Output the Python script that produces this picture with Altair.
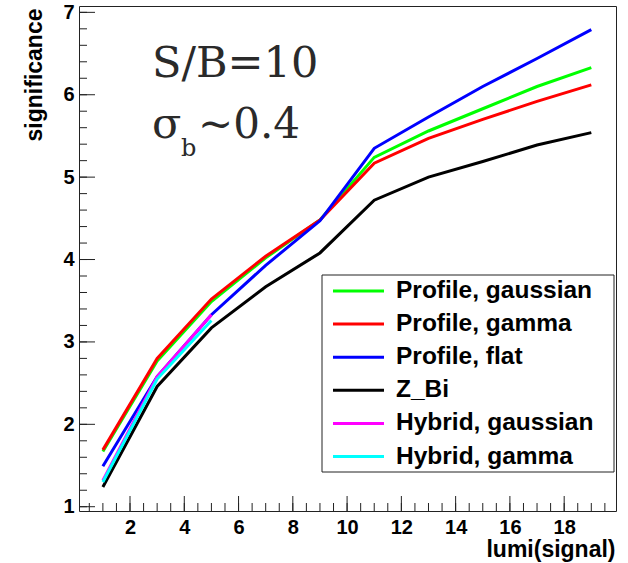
import altair as alt
import pandas as pd

# ---- data ----
x_profile = [1, 3, 5, 7, 9, 11, 13, 15, 17, 19]
x_hybrid = [1, 3, 5]
prof_gauss = [1.67, 2.77, 3.49, 4.02, 4.48, 5.24, 5.56, 5.83, 6.10, 6.33]
prof_gamma = [1.69, 2.80, 3.52, 4.04, 4.48, 5.17, 5.47, 5.70, 5.92, 6.12]
prof_flat = [1.49, 2.58, 3.33, 3.93, 4.47, 5.35, 5.73, 6.10, 6.44, 6.79]
z_bi = [1.24, 2.46, 3.17, 3.67, 4.08, 4.72, 5.00, 5.19, 5.39, 5.54]
hyb_gauss = [1.32, 2.58, 3.33]
hyb_gamma = [1.30, 2.55, 3.26]

series_names = ["Profile, gaussian", "Profile, gamma", "Profile, flat",
                "Z_Bi", "Hybrid, gaussian", "Hybrid, gamma"]
series_colors = ["#00ff00", "#ff0000", "#0000ff", "#000000", "#ff00ff", "#00ffff"]
series_x = [x_profile, x_profile, x_profile, x_profile, x_hybrid, x_hybrid]
series_y = [prof_gauss, prof_gamma, prof_flat, z_bi, hyb_gauss, hyb_gamma]

x_major = [2, 4, 6, 8, 10, 12, 14, 16, 18]
x_minor = [i * 0.5 for i in range(1, 40)]
y_major = [1, 2, 3, 4, 5, 6, 7]
y_minor = [round(1 + i * 0.2, 2) for i in range(0, 31)]

X_DOMAIN = [0.12, 19.91]
Y_DOMAIN = [0.948, 7.077]
W, H = 537, 505
FONT = "Liberation Sans"

rows = []
for name, xs_, ys_ in zip(series_names, series_x, series_y):
    for xv, yv in zip(xs_, ys_):
        rows.append({"series": name, "lumi": xv, "sig": yv})
df = pd.DataFrame(rows)
one = pd.DataFrame({"k": [0]})

xs = alt.Scale(domain=X_DOMAIN, nice=False, zero=False)
ys = alt.Scale(domain=Y_DOMAIN, nice=False, zero=False)

x_axis = alt.Axis(values=x_major, format="d", ticks=False, tickSize=0, domain=False, grid=False,
                  labelFont=FONT, labelFontWeight="bold", labelFontSize=20,
                  labelColor="black", labelPadding=6, labelFlush=False,
                  title="lumi(signal)", titleFont=FONT, titleFontWeight="bold",
                  titleFontSize=23, titleColor="black", titleAlign="right",
                  titleAnchor="end", titleX=W - 1, titleY=45, titleBaseline="alphabetic")
y_axis = alt.Axis(values=y_major, format="d", ticks=False, tickSize=0, domain=False, grid=False,
                  labelFont=FONT, labelFontWeight="bold", labelFontSize=20,
                  labelColor="black", labelPadding=5, labelFlush=False,
                  title="significance", titleFont=FONT, titleFontWeight="bold",
                  titleFontSize=23, titleColor="black", titleAlign="right",
                  titleAnchor="end", titleAngle=270, titleX=-38, titleY=2,
                  titleBaseline="alphabetic")

layers = []
# invisible base layer carrying the axes
base = alt.Chart(df).mark_point(opacity=0).encode(
    x=alt.X("lumi:Q", scale=xs, axis=x_axis),
    y=alt.Y("sig:Q", scale=ys, axis=y_axis),
)
layers.append(base)

# tick marks drawn inside the frame (ROOT style)
xmaj_df = pd.DataFrame({"v": x_major})
xmin_df = pd.DataFrame({"v": x_minor})
ymaj_df = pd.DataFrame({"v": y_major})
ymin_df = pd.DataFrame({"v": y_minor})
tick_col = "#222222"
layers.append(alt.Chart(xmin_df).mark_rule(color=tick_col, strokeWidth=1).encode(
    x=alt.X("v:Q", scale=xs), y=alt.value(H), y2=alt.value(H - 8)))
layers.append(alt.Chart(xmaj_df).mark_rule(color=tick_col, strokeWidth=1).encode(
    x=alt.X("v:Q", scale=xs), y=alt.value(H), y2=alt.value(H - 15)))
layers.append(alt.Chart(ymin_df).mark_rule(color=tick_col, strokeWidth=1).encode(
    y=alt.Y("v:Q", scale=ys), x=alt.value(0), x2=alt.value(8)))
layers.append(alt.Chart(ymaj_df).mark_rule(color=tick_col, strokeWidth=1).encode(
    y=alt.Y("v:Q", scale=ys), x=alt.value(0), x2=alt.value(16)))

# series lines, in legend (drawing) order
for name, col in zip(series_names, series_colors):
    layers.append(
        alt.Chart(df).transform_filter(alt.datum.series == name)
        .mark_line(color=col, strokeWidth=3, strokeJoin="miter")
        .encode(x=alt.X("lumi:Q", scale=xs), y=alt.Y("sig:Q", scale=ys),
                order="lumi:Q")
    )

# annotation text
TXT = "#2a2a2a"
def label(text, font, size, x, y, weight="normal", color=TXT):
    return (alt.Chart(one).mark_text(text=text, font=font, fontSize=size, fontWeight=weight,
                                     align="left", baseline="alphabetic", color=color)
            .encode(x=alt.value(x), y=alt.value(y)))

layers.append(label("S/B=10", "DejaVu Serif", 43, 73, 71))
layers.append(label("σ", "DejaVu Serif", 43, 73, 132))
layers.append(label("b", "DejaVu Serif", 24, 102, 150))
layers.append(label("~0.4", "DejaVu Serif", 42, 119, 132))

# legend box
LX0, LX1, LY0, LY1 = 243, 535, 269, 466
layers.append(alt.Chart(one).mark_rect(fill="white", stroke="#222222", strokeWidth=1)
              .encode(x=alt.value(LX0), x2=alt.value(LX1), y=alt.value(LY0), y2=alt.value(LY1)))
ROW0, ROWSTEP = 285, 33.1
for i, (name, col) in enumerate(zip(series_names, series_colors)):
    yrow = ROW0 + i * ROWSTEP
    layers.append(alt.Chart(one).mark_rule(color=col, strokeWidth=3)
                  .encode(x=alt.value(254), x2=alt.value(305), y=alt.value(yrow)))
    layers.append(label(name, FONT, 24.5, 317, yrow + 7, weight="bold", color="black"))

chart = alt.layer(*layers).properties(
    width=W, height=H,
    autosize=alt.AutoSizeParams(type="none"),
    padding={"left": 79, "top": 6, "right": 12, "bottom": 52},
    background="white",
).configure_view(stroke="#222222", strokeWidth=1)

chart.save("out.html", embed_options={"renderer": "svg", "actions": False})
